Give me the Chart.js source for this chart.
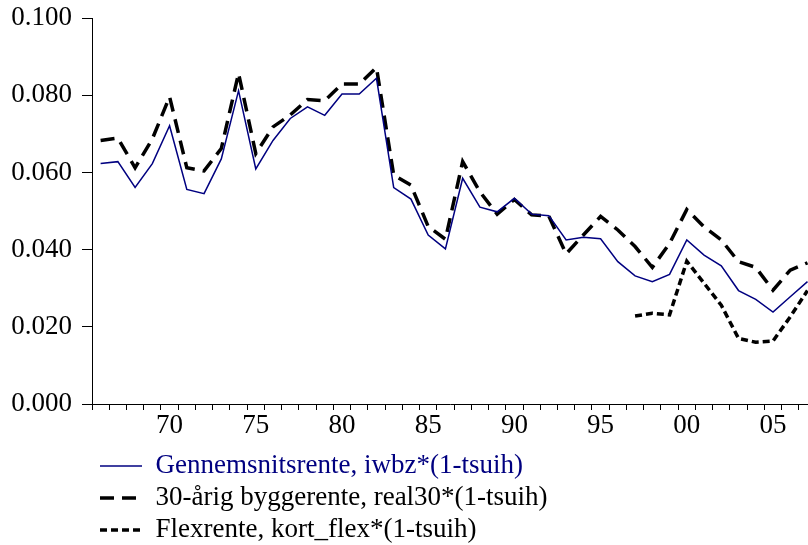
<!DOCTYPE html>
<html>
<head>
<meta charset="utf-8">
<script src="https://cdn.jsdelivr.net/npm/chart.js@4"></script>
<style>
  html, body { margin: 0; padding: 0; background: #fff; }
  #wrap { width: 808px; height: 545px; }
</style>
</head>
<body>
<div id="wrap"><canvas id="chart" width="808" height="545"></canvas></div>
<script>
// Data
const years = [
  1966, 1967, 1968, 1969, 1970, 1971, 1972, 1973, 1974, 1975, 1976, 1977, 1978, 1979,
  1980, 1981, 1982, 1983, 1984, 1985, 1986, 1987, 1988, 1989, 1990, 1991, 1992, 1993,
  1994, 1995, 1996, 1997, 1998, 1999, 2000, 2001, 2002, 2003, 2004, 2005, 2006, 2007,
];
const gennemsnit = [
  0.0623, 0.0628, 0.0561, 0.0623, 0.0721, 0.0556, 0.0545, 0.0635, 0.0812, 0.0609, 0.0683, 0.0740, 0.0770, 0.0748,
  0.0803, 0.0803, 0.0844, 0.0561, 0.0531, 0.0438, 0.0402, 0.0585, 0.0510, 0.0498, 0.0533, 0.0492, 0.0488, 0.0425,
  0.0432, 0.0428, 0.0369, 0.0332, 0.0317, 0.0336, 0.0425, 0.0386, 0.0358, 0.0294, 0.0271, 0.0238, 0.0278, 0.0317,
];
const byggerente = [
  0.0683, 0.0689, 0.0612, 0.0687, 0.0796, 0.0612, 0.0604, 0.0662, 0.0857, 0.0649, 0.0718, 0.0749, 0.0789, 0.0786,
  0.0829, 0.0829, 0.0872, 0.0593, 0.0567, 0.0460, 0.0427, 0.0628, 0.0550, 0.0492, 0.0530, 0.0490, 0.0487, 0.0389,
  0.0438, 0.0486, 0.0451, 0.0408, 0.0354, 0.0416, 0.0504, 0.0459, 0.0425, 0.0369, 0.0354, 0.0295, 0.0347, 0.0366,
];
const flexYears = [1997, 1998, 1999, 2000, 2001, 2002, 2003, 2004, 2005, 2006, 2007];
const flexrente = [0.0228, 0.0235, 0.0231, 0.0370, 0.0313, 0.0256, 0.0170, 0.0160, 0.0163, 0.0226, 0.0294];
const labelYears = [1970, 1975, 1980, 1985, 1990, 1995, 2000, 2005];
const seriesNames = [
  "Gennemsnitsrente, iwbz*(1-tsuih)",
  "30-årig byggerente, real30*(1-tsuih)",
  "Flexrente, kort_flex*(1-tsuih)",
];

const navy = "#000080";
const serif = "'Liberation Serif', 'Times New Roman', serif";

const toPoints = (xs, ys) => xs.map((x, i) => ({ x: x, y: ys[i] }));

// Move the legend under the plot, lined up with the first year
const legendShift = {
  id: "legendShift",
  afterLayout(chart) {
    chart.legend.left += 85;
    chart.legend.top += 8.5;
  },
};

const ctx = document.querySelector("#chart").getContext("2d");

new Chart(ctx, {
  type: "line",
  data: {
    datasets: [
      {
        label: seriesNames[0],
        data: toPoints(years, gennemsnit),
        borderColor: navy,
        borderWidth: 1.5,
        pointRadius: 0,
      },
      {
        label: seriesNames[1],
        data: toPoints(years, byggerente),
        borderColor: "#000",
        borderWidth: 3.5,
        borderDash: [14, 8],
        borderJoinStyle: "miter",
        pointRadius: 0,
      },
      {
        label: seriesNames[2],
        data: toPoints(flexYears, flexrente),
        borderColor: "#000",
        borderWidth: 3.5,
        borderDash: [7, 4],
        borderJoinStyle: "miter",
        pointRadius: 0,
      },
    ],
  },
  plugins: [legendShift],
  options: {
    responsive: false,
    animation: false,
    layout: { padding: { left: 10, right: 0, top: 0, bottom: 0 } },
    scales: {
      x: {
        type: "linear",
        min: 1965.5,
        max: 2007.03,
        afterBuildTicks: (scale) => {
          const ticks = [];
          for (let y = 1965.5; y < 2007; y += 1) ticks.push({ value: y });
          labelYears.forEach((y) => ticks.push({ value: y }));
          ticks.sort((a, b) => a.value - b.value);
          scale.ticks = ticks;
        },
        afterFit: (scale) => {
          scale.height = 35;
        },
        ticks: {
          autoSkip: false,
          maxRotation: 0,
          padding: 1,
          color: "#000",
          font: { family: serif, size: 27, lineHeight: 1.1 },
          callback: (value) => (labelYears.includes(value) ? String(value).slice(2) : ""),
        },
        grid: {
          drawOnChartArea: false,
          tickLength: 6,
          tickColor: (c) => (c.tick && c.tick.value % 1 !== 0 ? "#000" : "rgba(0,0,0,0)"),
        },
        border: { color: "#000", width: 1 },
      },
      y: {
        min: 0,
        max: 0.1,
        afterFit: (scale) => {
          scale.width = 82;
        },
        ticks: {
          stepSize: 0.02,
          padding: 10,
          color: "#000",
          font: { family: serif, size: 27, lineHeight: 0.6 },
          callback: (value) => value.toFixed(3),
        },
        grid: {
          drawOnChartArea: false,
          tickLength: 10,
          tickColor: "#000",
        },
        border: { color: "#000", width: 1 },
      },
    },
    plugins: {
      tooltip: { enabled: false },
      legend: {
        position: "bottom",
        align: "start",
        labels: {
          usePointStyle: true,
          pointStyle: "line",
          pointStyleWidth: 42,
          padding: 5,
          color: "#000",
          font: { family: serif, size: 27 },
          generateLabels: (chart) => {
            const items = Chart.defaults.plugins.legend.labels.generateLabels(chart);
            items.forEach((item, i) => {
              const ds = chart.data.datasets[i];
              item.lineDash = ds.borderDash || [];
              item.lineWidth = ds.borderWidth;
              item.strokeStyle = ds.borderColor;
              item.fontColor = i === 0 ? navy : "#000";
            });
            return items;
          },
        },
      },
    },
  },
});
</script>
</body>
</html>
